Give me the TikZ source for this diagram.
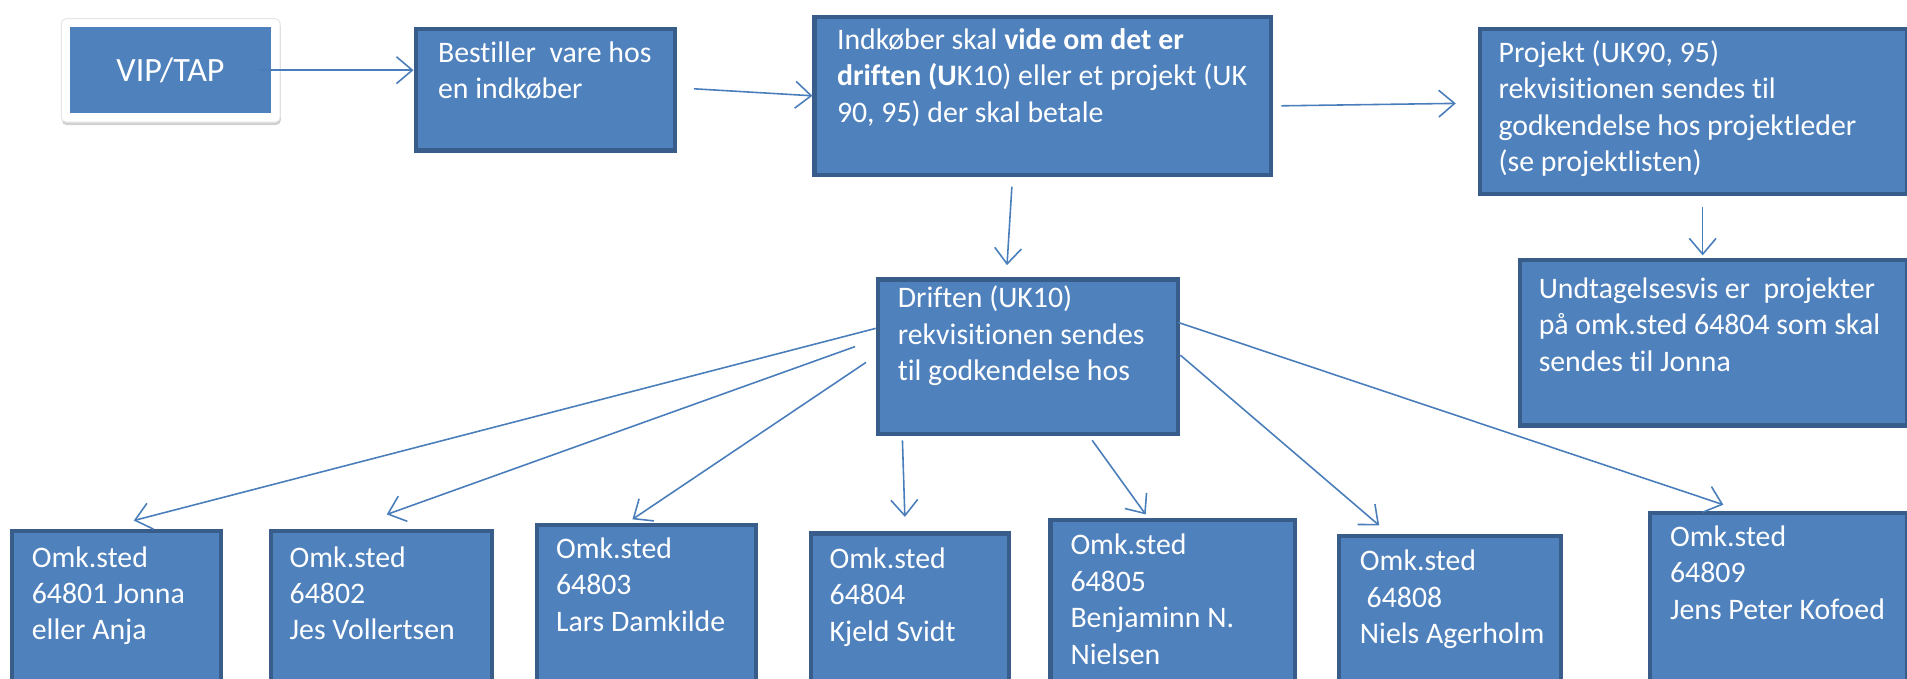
\documentclass[tikz,border=0pt]{standalone}
\usepackage{fontspec}
\setmainfont[Ligatures={NoCommon}]{Carlito}
\usetikzlibrary{arrows.meta,shadows,calc}
\definecolor{boxfill}{HTML}{4F81BD}
\definecolor{boxline}{HTML}{385D8A}
\definecolor{arrcol}{HTML}{4A7EBB}
\tikzset{
 box/.style={draw=boxline, fill=boxfill, line width=3.5pt, inner sep=0pt, anchor=north west},
 txt/.style={text=white, inner sep=0pt, anchor=north west, align=left, font=\fontsize{24.5}{30}\selectfont, execute at begin node=\strut},
 arr/.style={draw=arrcol, line width=1.3pt, -{Straight Barb[length=13pt,width=22pt,line width=1.3pt]}},
}
\newcommand\ubox[8]{%
 \node[box, minimum width={#4-#2}, minimum height={#5-#3}] (#1) at (#2,#3) {};
 \node[txt] (#1t) at (#6,#7-21) {#8};}
\begin{document}
\begin{tikzpicture}[x=1pt,y=-1pt]
\useasboundingbox (0,0) rectangle (1568,558);
\clip (0,0) rectangle (1568,558);
% VIP/TAP
\node[fill=white, draw=black!10, line width=0.8pt, rounded corners=4pt, minimum width=180, minimum height=85, anchor=north west, inner sep=0pt,
  drop shadow={shadow xshift=0.5pt, shadow yshift=-2.5pt, fill=black, opacity=0.18}] (vipframe) at (50,15) {};
\node[fill=boxfill, minimum width=166, minimum height=71, anchor=north west, inner sep=0pt] (vip) at (57,22) {};
\node[text=white, font=\fontsize{28}{33}\selectfont] (viptxt) at (vip.center) {VIP/TAP};
% boxes
\ubox{best}{340}{22}{553}{122}{360}{55}{Bestiller\ \ vare hos\\en indkøber}
\ubox{indk}{668}{12}{1043}{142}{688}{44}{Indkøber skal \textbf{vide om det er}\\\textbf{driften (U}K10) eller et projekt (UK\\90, 95) der skal betale}
\ubox{proj}{1215}{22}{1566}{158}{1232}{54}{Projekt (UK90, 95)\\rekvisitionen sendes til\\godkendelse hos projektleder\\(se projektlisten)}
\ubox{undt}{1248}{212}{1566}{348}{1265}{249}{Undtagelsesvis er\ \ projekter\\på omk.sted 64804 som skal\\sendes til Jonna}
\ubox{drift}{720}{228}{967}{355}{738}{256}{Driften (UK10)\\rekvisitionen sendes\\til godkendelse hos}
\ubox{oa}{8}{435}{180}{575}{26}{470}{Omk.sted\\64801 Jonna\\eller Anja}
\ubox{ob}{221}{435}{403}{575}{238}{470}{Omk.sted\\64802\\Jes Vollertsen}
\ubox{oc}{440}{430}{620}{575}{457}{463}{Omk.sted\\64803\\Lars Damkilde}
\ubox{od}{665}{437}{828}{575}{682}{471}{Omk.sted\\64804\\Kjeld Svidt}
\ubox{oe}{862}{426}{1063}{575}{880}{460}{Omk.sted\\64805\\Benjaminn N.\\Nielsen}
\ubox{of}{1099}{439}{1282}{575}{1118}{473}{Omk.sted\\\ 64808\\Niels Agerholm}
\ubox{og}{1355}{420}{1566}{575}{1373}{453}{Omk.sted\\64809\\Jens Peter Kofoed}
% connectors
\draw[arr] ([xshift=-10pt]vip.east) -- (best.west |- vip.east);
\draw[arr] ([shift={(14,51)}]best.north east) -- (indk.west);
\draw[arr] ([shift={(7,75)}]indk.north east) -- ([shift={(-18,63)}]proj.north west);
\draw[arr] ([shift={(164,8)}]indk.south west) -- ([shift={(108,-10)}]drift.north west);
\draw[arr] ([shift={(185,9)}]proj.south west) -- ([shift={(152,-2)}]undt.north west);
\draw[arr] ([shift={(0,42)}]drift.north west) -- ([shift={(102,-7)}]oa.north west);
\draw[arr] ([shift={(-17,57)}]drift.north west) -- ([shift={(97,-12)}]ob.north west);
\draw[arr] ([shift={(-8,70)}]drift.north west) -- ([shift={(80,-3)}]oc.north west);
\draw[arr] ([shift={(22,134)}]drift.north west) -- ([shift={(79,-12)}]od.north west);
\draw[arr] ([shift={(178,134)}]drift.north west) -- ([shift={(80,-3)}]oe.north west);
\draw[arr] ([shift={(0,64)}]drift.north east) -- ([shift={(35,-7)}]of.north west);
\draw[arr] ([shift={(-2,37)}]drift.north east) -- ([shift={(62,-5)}]og.north west);
\end{tikzpicture}
\end{document}
